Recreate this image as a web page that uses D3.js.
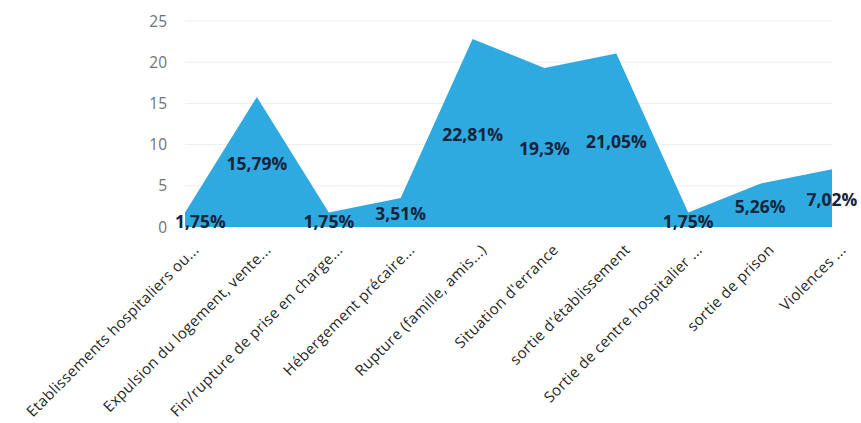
<!DOCTYPE html>
<html>
<head>
<meta charset="utf-8">
<script src="https://cdn.jsdelivr.net/npm/d3@7"></script>
<style>
  html, body { margin: 0; padding: 0; background: #fff; }
  svg { display: block; }
</style>
</head>
<body>
<svg id="chart" width="861" height="423"></svg>
<script>
// Situations à l'origine de la perte de logement (en %)
const categories = [
  "Etablissements hospitaliers ou...",
  "Expulsion du logement, vente...",
  "Fin/rupture de prise en charge...",
  "Hébergement précaire...",
  "Rupture (famille, amis...)",
  "Situation d'errance",
  "sortie d'établissement",
  "Sortie de centre hospitalier ...",
  "sortie de prison",
  "Violences ..."
];
const values = [1.75, 15.79, 1.75, 3.51, 22.81, 19.3, 21.05, 1.75, 5.26, 7.02];
const yTicks = [0, 5, 10, 15, 20, 25];

const width = 861;
const svg = d3.select("#chart");
const fill = "#2eaae1";

const x = d3.scalePoint().domain(categories).range([185, 832]);
const y = d3.scaleLinear().domain([0, 25]).range([227, 21]);

// horizontal gridlines
svg.append("g")
  .selectAll("line")
  .data(yTicks.filter(t => t > 0))
  .join("line")
  .attr("x1", x.range()[0]).attr("x2", x.range()[1])
  .attr("y1", d => y(d)).attr("y2", d => y(d))
  .attr("stroke", "#eeeeee").attr("stroke-width", 1);

// y tick labels
svg.append("g")
  .selectAll("text")
  .data(yTicks)
  .join("text")
  .attr("x", 167)
  .attr("y", d => y(d))
  .attr("dy", "0.36em")
  .attr("text-anchor", "end")
  .attr("font-family", "'Open Sans', sans-serif")
  .attr("font-size", 15.5)
  .attr("fill", "#727272")
  .text(d => d);

// area
const rows = categories.map((c, i) => ({ c, v: values[i] }));
const area = d3.area()
  .x(d => x(d.c))
  .y0(y(0))
  .y1(d => y(d.v));
svg.append("path")
  .datum(rows)
  .attr("d", area)
  .attr("fill", fill);

// value labels at half height, kept inside the chart at both ends
const fmt = v => String(v).replace(".", ",") + "%";
const labels = svg.append("g")
  .selectAll("text")
  .data(rows)
  .join("text")
  .attr("y", d => y(d.v / 2) + 1.5)
  .attr("dy", "0.36em")
  .attr("text-anchor", "middle")
  .attr("font-family", "'Open Sans', sans-serif")
  .attr("font-weight", "bold")
  .attr("font-size", 17.5)
  .attr("fill", "#16233a")
  .text(d => fmt(d.v));
labels.attr("x", function(d) {
  const w = this.getComputedTextLength();
  const lo = x.range()[0] - 10 + w / 2;
  const hi = width - 3 - w / 2;
  return Math.min(Math.max(x(d.c), lo), hi);
});

// rotated category labels
svg.append("g")
  .selectAll("text")
  .data(categories)
  .join("text")
  .attr("transform", d => `translate(${x(d) + 11},${247}) rotate(-45)`)
  .attr("dy", "0.36em")
  .attr("text-anchor", "end")
  .attr("font-family", "'Open Sans', sans-serif")
  .attr("font-size", 15)
  .attr("letter-spacing", 0.35)
  .attr("fill", "#262626")
  .text(d => d);
</script>
</body>
</html>
